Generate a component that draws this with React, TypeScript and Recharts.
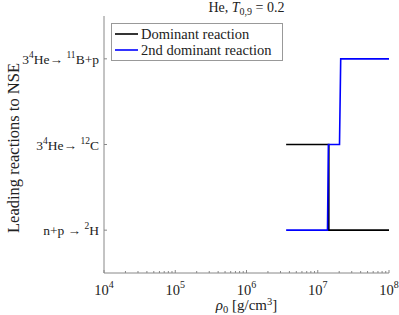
import { LineChart, Line, XAxis, YAxis } from 'recharts';

// step traces (rho0 in g/cm^3, reaction index 1..3)
const dominantRho = [3.6e6, 1.43e7, 1.43e7, 1e8];
const dominantLevel = [2, 2, 1, 1];
const secondRho = [3.6e6, 1.37e7, 1.41e7, 2.02e7, 2.1e7, 1e8];
const secondLevel = [1, 1, 2, 2, 3, 3];

const decades = [1e4, 1e5, 1e6, 1e7, 1e8];
const decadeExp = ['4', '5', '6', '7', '8'];
const levels = [1, 2, 3];
// [text, isSuperscript]
const reactionLabels: [string, boolean][][] = [
  [['n+p → ', false], ['2', true], ['H', false]],
  [['3', false], ['4', true], ['He→ ', false], ['12', true], ['C', false]],
  [['3', false], ['4', true], ['He→ ', false], ['11', true], ['B+p', false]],
];
const seriesNames = ['Dominant reaction', '2nd dominant reaction'];
const seriesColors = ['#000000', '#0000ff'];

const dominantData = dominantRho.map((rho, i) => ({ rho, level: dominantLevel[i] }));
const secondData = secondRho.map((rho, i) => ({ rho, level: secondLevel[i] }));

const minorTicks: number[] = [];
decades.slice(0, -1).forEach((d) => {
  for (let k = 2; k <= 9; k++) minorTicks.push(k * d);
});
const xTicks = [...decades, ...minorTicks].sort((a, b) => a - b);

const axisColor = '#888888';
const textColor = '#222222';
const serif = '"Liberation Serif", "Times New Roman", serif';

const W = 399;
const H = 315;

const BottomTick = ({ x, y, payload }: any) => {
  const idx = decades.indexOf(payload.value);
  const major = idx >= 0;
  return (
    <g>
      <line x1={x} x2={x} y1={y} y2={y - (major ? 3 : 2)} stroke={axisColor} />
      {major && (
        <text x={x} y={y + 22} textAnchor="middle" style={{ fontFamily: serif }} fontSize={14.5} fill={textColor}>
          10
          <tspan dy={-7} fontSize={10}>
            {decadeExp[idx]}
          </tspan>
        </text>
      )}
    </g>
  );
};

const TopTick = ({ x, y, payload }: any) => {
  const major = decades.indexOf(payload.value) >= 0;
  return <line x1={x} x2={x} y1={y} y2={y + (major ? 3 : 2)} stroke={axisColor} />;
};

const LeftTick = ({ x, y, payload }: any) => {
  const parts = reactionLabels[levels.indexOf(payload.value)] || [];
  let sup = false;
  return (
    <g>
      <line x1={x} x2={x + 3} y1={y} y2={y} stroke={axisColor} />
      <text x={x - 5} y={y + 5} textAnchor="end" style={{ fontFamily: serif }} fontSize={13.5} fill={textColor}>
        {parts.map(([t, s], i) => {
          const dy = s && !sup ? -6 : !s && sup ? 6 : 0;
          sup = s;
          return (
            <tspan key={i} dy={dy} fontSize={s ? 9.5 : 13.5}>
              {t}
            </tspan>
          );
        })}
      </text>
    </g>
  );
};

const RightTick = ({ x, y }: any) => <line x1={x} x2={x - 3} y1={y} y2={y} stroke={axisColor} />;

export default function App() {
  return (
    <div style={{ position: 'absolute', left: 0, top: 0, width: W, height: H, background: '#fff' }}>
      <LineChart width={W} height={H} margin={{ top: 16, right: 10, bottom: 0, left: 0 }}>
        <XAxis
          dataKey="rho"
          type="number"
          scale="log"
          domain={[1e4, 1e8]}
          allowDataOverflow
          ticks={xTicks}
          interval={0}
          height={42}
          tickSize={0}
          tickMargin={0}
          tickLine={false}
          stroke={axisColor}
          tick={<BottomTick />}
        />
        <XAxis
          xAxisId="top"
          orientation="top"
          type="number"
          scale="log"
          domain={[1e4, 1e8]}
          allowDataOverflow
          ticks={xTicks}
          interval={0}
          height={0}
          tickSize={0}
          tickMargin={0}
          tickLine={false}
          stroke={axisColor}
          tick={<TopTick />}
        />
        <YAxis
          dataKey="level"
          type="number"
          domain={[0.5, 3.5]}
          ticks={levels}
          interval={0}
          width={104}
          tickSize={0}
          tickMargin={0}
          tickLine={false}
          stroke={axisColor}
          tick={<LeftTick />}
        />
        <YAxis
          yAxisId="right"
          orientation="right"
          type="number"
          domain={[0.5, 3.5]}
          ticks={levels}
          interval={0}
          width={0}
          tickSize={0}
          tickMargin={0}
          tickLine={false}
          stroke={axisColor}
          tick={<RightTick />}
        />
        <Line
          data={dominantData}
          dataKey="level"
          name={seriesNames[0]}
          type="linear"
          stroke={seriesColors[0]}
          strokeWidth={1.6}
          dot={false}
          isAnimationActive={false}
        />
        <Line
          data={secondData}
          dataKey="level"
          name={seriesNames[1]}
          type="linear"
          stroke={seriesColors[1]}
          strokeWidth={1.6}
          dot={false}
          isAnimationActive={false}
        />
      </LineChart>
      <svg
        width={W}
        height={H}
        style={{ position: 'absolute', left: 0, top: 0, pointerEvents: 'none', fontFamily: serif }}
        fill={textColor}
      >
        <text x={246.5} y={12} textAnchor="middle" fontSize={14} style={{ fontFamily: serif }}>
          He,{' '}
          <tspan fontStyle="italic">T</tspan>
          <tspan dy={3} fontSize={10}>
            0,9
          </tspan>
          <tspan dy={-3}> = 0.2</tspan>
        </text>
        <text x={246.5} y={310} textAnchor="middle" fontSize={15} style={{ fontFamily: serif }}>
          <tspan fontStyle="italic">ρ</tspan>
          <tspan dy={3} fontSize={10.5}>
            0
          </tspan>
          <tspan dy={-3}> [g/cm</tspan>
          <tspan dy={-5} fontSize={10.5}>
            3
          </tspan>
          <tspan dy={5}>]</tspan>
        </text>
        <text transform="translate(19,148) rotate(-90)" textAnchor="middle" fontSize={16.5} style={{ fontFamily: serif }}>
          Leading reactions to NSE
        </text>
        <rect x={111.5} y={23.5} width={171} height={37} fill="#fff" stroke="#999" />
        {seriesNames.map((name, i) => (
          <g key={name}>
            <line x1={115} x2={138} y1={34 + i * 16} y2={34 + i * 16} stroke={seriesColors[i]} strokeWidth={1.6} />
            <text x={141} y={39 + i * 16} fontSize={14.5} style={{ fontFamily: serif }} fill={textColor}>
              {name}
            </text>
          </g>
        ))}
      </svg>
    </div>
  );
}
